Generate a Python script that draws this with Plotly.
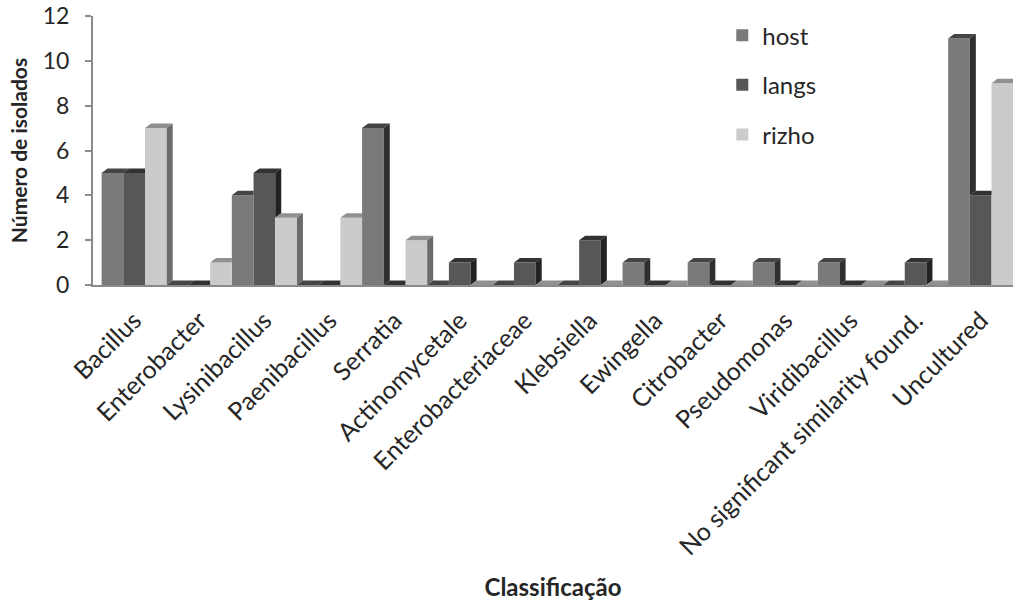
import plotly.graph_objects as go

# Isolates per classification, by sample type
categories = [
    "Bacillus", "Enterobacter", "Lysinibacillus", "Paenibacillus", "Serratia",
    "Actinomycetale", "Enterobacteriaceae", "Klebsiella", "Ewingella",
    "Citrobacter", "Pseudomonas", "Viridibacillus",
    "No significant similarity found.", "Uncultured",
]
host = [5, 0, 4, 0, 7, 0, 0, 0, 1, 1, 1, 1, 0, 11]
langs = [5, 0, 5, 0, 0, 1, 1, 2, 0, 0, 0, 0, 1, 4]
rizho = [7, 1, 3, 3, 2, 0, 0, 0, 0, 0, 0, 0, 0, 9]

series_names = ["host", "langs", "rizho"]
series_values = [host, langs, rizho]

# Shading for the pseudo-3D columns: front, top and side faces
front_colors = ["#7a7a7a", "#575757", "#cbcbcb"]
top_colors = ["#454545", "#323232", "#909090"]
side_colors = ["#2f2f2f", "#222222", "#6b6b6b"]

FONT = "Lato"
TEXT = "#262626"
AXIS = "#8a8a8a"

n = len(categories)
m = len(series_values)
bw = 1.0 / m          # column width, in category units
dx = 0.092            # depth offset, x (category units)
dy = 0.20             # depth offset, y (value units)

fig = go.Figure()

# Front faces of the columns
for k, (name, vals) in enumerate(zip(series_names, series_values)):
    fig.add_trace(go.Bar(
        x=[i - 0.5 + k * bw + bw / 2 for i in range(n)],
        y=vals,
        width=bw,
        name=name,
        legendgroup=name,
        marker=dict(color=front_colors[k], line=dict(width=0)),
        hovertemplate="%{customdata}<br>" + name + ": %{y}<extra></extra>",
        customdata=categories,
    ))


def next_value(k, i):
    """Height of the column standing immediately right of column (k, i)."""
    if k < m - 1:
        return series_values[k + 1][i]
    if i + 1 < n:
        return series_values[0][i + 1]
    return 0


# Top and side faces, clipped where the neighbouring column hides them
for k, vals in enumerate(series_values):
    tops_x, tops_y, sides_x, sides_y = [], [], [], []
    for i in range(n):
        v = vals[i]
        x0 = i - 0.5 + k * bw
        x1 = x0 + bw
        vn = next_value(k, i)
        if vn > v:
            tx = [x0, x1, x1, x0 + dx, x0]
        else:
            tx = [x0, x1, x1 + dx, x0 + dx, x0]
        ty = [v, v, v + dy, v + dy, v]
        tops_x += tx + [None]
        tops_y += ty + [None]
        if v > vn:
            sides_x += [x1, x1 + dx, x1 + dx, x1, x1, None]
            sides_y += [vn, vn + dy, v + dy, v, vn, None]
    fig.add_trace(go.Scatter(
        x=tops_x, y=tops_y, mode="lines", fill="toself",
        fillcolor=top_colors[k], line=dict(width=0, color=top_colors[k]),
        showlegend=False, hoverinfo="skip",
    ))
    if sides_x:
        fig.add_trace(go.Scatter(
            x=sides_x, y=sides_y, mode="lines", fill="toself",
            fillcolor=side_colors[k], line=dict(width=0, color=side_colors[k]),
            showlegend=False, hoverinfo="skip",
        ))

fig.update_layout(
    width=1013,
    height=606,
    margin=dict(l=93, r=0, t=16, b=321),
    paper_bgcolor="white",
    plot_bgcolor="white",
    barmode="overlay",
    font=dict(family=FONT, color=TEXT, size=22),
    showlegend=True,
    legend=dict(
        x=0.684, y=1.011, xanchor="left", yanchor="top",
        font=dict(family=FONT, size=24, color=TEXT),
        traceorder="grouped", tracegroupgap=15.5,
        bgcolor="rgba(0,0,0,0)",
    ),
    xaxis=dict(
        range=[-0.632, 13.496],
        tickmode="array",
        tickvals=list(range(n)),
        ticktext=categories,
        tickangle=-45,
        tickfont=dict(family=FONT, size=25, color=TEXT),
        ticklabelstandoff=9,
        showline=True, linecolor=AXIS, linewidth=2,
        ticks="", showgrid=False, zeroline=False,
        title=dict(text="Classificação", standoff=20,
                   font=dict(family=FONT, size=24, color=TEXT, weight="bold")),
    ),
    yaxis=dict(
        range=[0, 12],
        dtick=2,
        tickfont=dict(family=FONT, size=23, color=TEXT),
        showline=True, linecolor=AXIS, linewidth=2,
        ticks="outside", ticklen=6, tickwidth=2, tickcolor=AXIS,
        ticklabelstandoff=11,
        showgrid=False, zeroline=False,
        title=dict(text="Número de isolados", standoff=9,
                   font=dict(family=FONT, size=21, color=TEXT, weight="bold")),
    ),
)

fig.write_html("out.html")
